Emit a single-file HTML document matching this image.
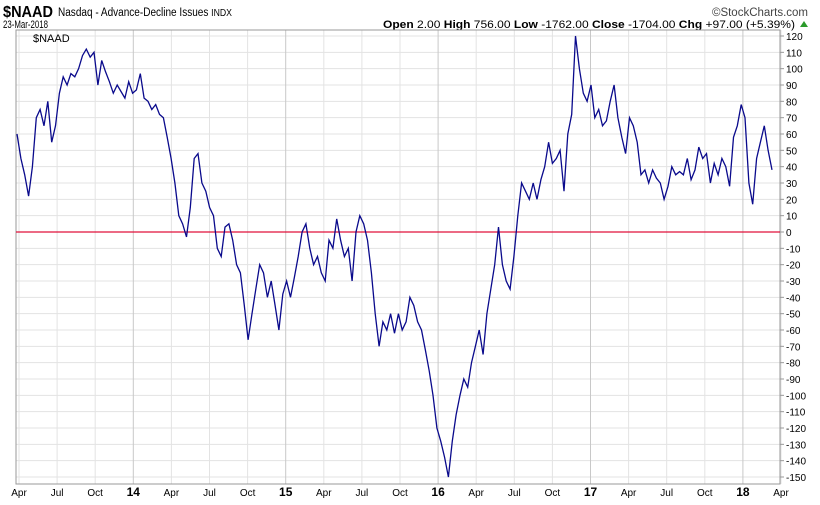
<!DOCTYPE html>
<html><head><meta charset="utf-8"><style>
body{margin:0;background:#fff;font-family:"Liberation Sans",sans-serif;}
svg text{font-family:"Liberation Sans",sans-serif;}
</style></head><body>
<svg id="chart" width="820" height="500" viewBox="0 0 820 500">
<text x="3" y="17" font-size="16" font-weight="bold" textLength="50" lengthAdjust="spacingAndGlyphs">$NAAD</text>
<text x="58" y="16" font-size="11.5" textLength="174" lengthAdjust="spacingAndGlyphs">Nasdaq - Advance-Decline Issues <tspan font-size="10">INDX</tspan></text>
<text x="3" y="28" font-size="11" textLength="45" lengthAdjust="spacingAndGlyphs">23-Mar-2018</text>
<text x="808" y="16" font-size="11.5" fill="#444" text-anchor="end">©StockCharts.com</text>
<text x="383" y="28" font-size="11" textLength="412" lengthAdjust="spacingAndGlyphs"><tspan font-weight="bold">Open</tspan> 2.00 <tspan font-weight="bold">High</tspan> 756.00 <tspan font-weight="bold">Low</tspan> -1762.00 <tspan font-weight="bold">Close</tspan> -1704.00 <tspan font-weight="bold">Chg</tspan> +97.00 (+5.39%)</text>
<polygon points="800,27 808,27 804,21" fill="#2a9a2a"/>
<g id="grid"></g>
<rect x="16" y="30" width="764" height="454" fill="none" stroke="#999"/>
<text x="33" y="42" font-size="11">$NAAD</text>
<g id="marks"></g>
<g id="axes"></g>
</svg>
<script>
const values=[60,45,35,22,40,70,75,65,80,55,65,85,95,90,97,95,100,108,112,107,110,90,105,98,92,85,90,86,82,92,85,87,97,82,80,75,78,72,70,58,45,30,10,5,-3,15,45,48,30,25,15,10,-10,-15,3,5,-5,-20,-25,-45,-66,-50,-35,-20,-25,-40,-30,-45,-60,-38,-30,-40,-28,-15,0,5,-10,-20,-15,-25,-30,-5,-10,8,-5,-15,-10,-30,0,10,5,-5,-25,-50,-70,-55,-60,-50,-62,-50,-60,-55,-40,-45,-55,-60,-72,-85,-100,-120,-128,-138,-150,-128,-112,-100,-90,-95,-80,-70,-60,-75,-50,-35,-20,3,-20,-30,-35,-15,10,30,25,20,30,20,32,40,55,42,45,50,25,60,72,120,100,85,80,90,70,75,65,68,80,90,70,58,48,70,65,55,35,38,30,38,33,30,20,28,40,35,37,35,45,32,38,52,45,48,30,42,35,45,40,28,58,65,78,70,30,17,45,55,65,50,38];
const xLabels=["Apr","Jul","Oct","14","Apr","Jul","Oct","15","Apr","Jul","Oct","16","Apr","Jul","Oct","17","Apr","Jul","Oct","18","Apr"];
const yTicks=[120,110,100,90,80,70,60,50,40,30,20,10,0,-10,-20,-30,-40,-50,-60,-70,-80,-90,-100,-110,-120,-130,-140,-150];
const NS="http://www.w3.org/2000/svg";
const yScale=v=>232-v*1.6333;
const xLab=i=>19+i*38.1;
const xData=i=>17+i*(772-17)/(values.length-1);
const grid=document.getElementById('grid'),axes=document.getElementById('axes'),marks=document.getElementById('marks');
function mk(tag,attrs,parent){const e=document.createElementNS(NS,tag);for(const k in attrs)e.setAttribute(k,attrs[k]);parent.appendChild(e);return e;}
yTicks.forEach(v=>{
 const y=yScale(v);
 const l=mk('line',{x1:16,x2:780,y1:y,y2:y,stroke:'#e3e3e3'},grid);
 
 
 mk('line',{x1:780,x2:784,y1:y,y2:y,stroke:'#999'},axes);
 const t=mk('text',{x:786,y:y+4,'font-size':10},axes);
 t.textContent=v;
 
 
});
xLabels.forEach((s,i)=>{
 const x=xLab(i);const yr=/^\d/.test(s);
 const l=mk('line',{x1:x,x2:x,y1:30,y2:484,stroke:yr?'#c8c8c8':'#e3e3e3'},grid);
 
 
 const t=mk('text',{x:x,y:496,'font-size':yr?12:10,'font-weight':yr?'bold':'normal','text-anchor':'middle'},axes);
 t.textContent=s;
 
 
});
const zl=mk('line',{x1:16,x2:780,y1:yScale(0),y2:yScale(0),stroke:'#e0103a','stroke-width':1.2},marks);


const pts=values.map((v,i)=>xData(i).toFixed(1)+','+yScale(v).toFixed(1)).join(' ');
const pl=mk('polyline',{points:pts,fill:'none',stroke:'#0a0a8c','stroke-width':1.3},marks);


</script>
</body></html>
